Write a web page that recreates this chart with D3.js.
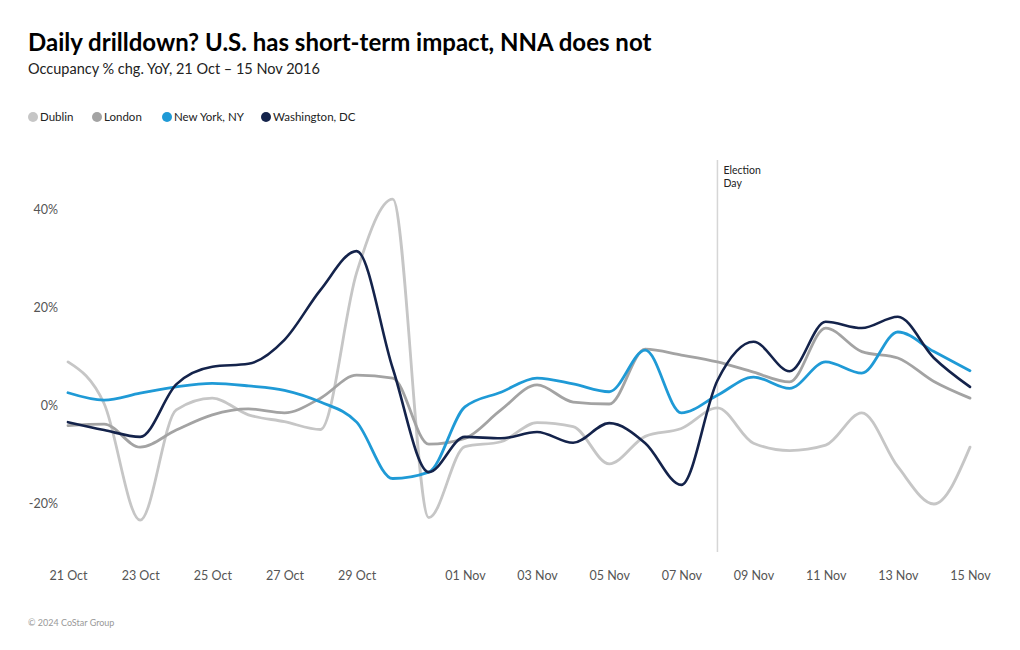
<!DOCTYPE html>
<html><head><meta charset="utf-8">
<script src="https://cdn.jsdelivr.net/npm/d3@7"></script>
<style>
body{margin:0;background:#fff;}
svg text{font-family:Lato,"Noto Sans",sans-serif;}
</style></head>
<body><svg id="c" width="1020" height="650"></svg>
<script>
const startDate = "2016-10-21";
const dublin = [8.8,0.3,-23.5,-1,1.4,-2,-3.4,-5,27,42,-23,-8.5,-7.5,-3.6,-4.4,-12,-6.4,-4.8,-0.6,-7.8,-9.3,-8.2,-1.6,-12.6,-20.2,-8.6];
const london = [-4.2,-3.9,-8.6,-5.1,-2,-0.8,-1.6,1.4,6.1,5.5,-8,-6.8,-1,4.1,0.6,0.2,11.4,10.2,8.8,6.7,4.7,15.7,10.9,9.6,4.8,1.4];
const newYork = [2.5,1,2.4,3.7,4.4,3.9,3,0.6,-3.5,-15,-13.7,-0.4,2.6,5.5,4.3,2.7,11.2,-1.6,2,5.7,3.4,8.8,6.5,14.9,10.9,7];
const washington = [-3.5,-5.1,-6.5,4.2,7.8,8.4,13.3,23.5,31.4,7.5,-13.7,-6.5,-6.8,-5.5,-7.7,-3.7,-7.8,-16.3,5,12.9,6.9,17,15.7,18,9.6,3.7];
const seriesNames = ["Dublin","London","New York, NY","Washington, DC"];
const seriesColors = ["#c6c6c6","#a3a3a3","#1f9ad6","#14234b"];
const xTickDates = ["2016-10-21","2016-10-23","2016-10-25","2016-10-27","2016-10-29","2016-11-01","2016-11-03","2016-11-05","2016-11-07","2016-11-09","2016-11-11","2016-11-13","2016-11-15"];
const yTicks = [-20,0,20,40];
const electionDate = "2016-11-08";

const parse = d3.utcParse("%Y-%m-%d");
const t0 = parse(startDate);
const dates = dublin.map((_, i) => d3.utcDay.offset(t0, i));
const allSeries = [dublin, london, newYork, washington];

const svg = d3.select("#c");
const x = d3.scaleUtc().domain([dates[0], dates[dates.length-1]]).range([68, 970]);
const y = d3.scaleLinear().domain([-30, 50]).range([552, 160]);

// Title
svg.append("text").attr("x", 28).attr("y", 51).attr("font-size", 24).attr("font-weight", 700).attr("fill", "#000")
  .text("Daily drilldown? U.S. has short-term impact, NNA does not");
svg.append("text").attr("x", 28).attr("y", 74).attr("font-size", 14.5).attr("fill", "#222")
  .text("Occupancy % chg. YoY, 21 Oct \u2013 15 Nov 2016");

// Legend
const legX = [33, 97, 167, 266];
const leg = svg.append("g");
seriesNames.forEach((n, i) => {
  leg.append("circle").attr("cx", legX[i]).attr("cy", 117).attr("r", 5).attr("fill", seriesColors[i]);
  leg.append("text").attr("x", legX[i] + 7).attr("y", 121).attr("font-size", 11.5).attr("fill", "#222").text(n);
});

// Axes
const yAxis = d3.axisLeft(y).tickValues(yTicks).tickSize(0).tickPadding(0).tickFormat(d => d + "%");
const gy = svg.append("g").attr("transform", "translate(58,0)").call(yAxis);
gy.select(".domain").remove();
gy.selectAll("text").attr("font-size", 12.5).attr("fill", "#555").attr("font-family", "Lato, sans-serif");

const fmt = d3.utcFormat("%d %b");
const xAxis = d3.axisBottom(x).tickValues(xTickDates.map(parse)).tickSize(0).tickPadding(0).tickFormat(fmt);
const gx = svg.append("g").attr("transform", "translate(0,571)").call(xAxis);
gx.select(".domain").remove();
gx.selectAll("text").attr("font-size", 12.5).attr("fill", "#555").attr("font-family", "Lato, sans-serif");

// Election day
const ex = x(parse(electionDate));
svg.append("line").attr("x1", ex).attr("x2", ex).attr("y1", 160).attr("y2", 552).attr("stroke", "#d6d6d6").attr("stroke-width", 1.5);
svg.append("text").attr("x", ex + 6).attr("y", 174).attr("font-size", 10.5).attr("fill", "#222").text("Election");
svg.append("text").attr("x", ex + 6).attr("y", 187).attr("font-size", 10.5).attr("fill", "#222").text("Day");

// Lines
const line = d3.line().x((d, i) => x(dates[i])).y(d => y(d)).curve(d3.curveMonotoneX);
allSeries.forEach((s, i) => {
  svg.append("path").datum(s).attr("d", line).attr("fill", "none")
    .attr("stroke", seriesColors[i]).attr("stroke-width", i === 3 ? 2.6 : 2.8)
    .attr("stroke-linejoin", "round").attr("stroke-linecap", "round");
});

// Footer
svg.append("text").attr("x", 28).attr("y", 626).attr("font-size", 9).attr("fill", "#999").text("\u00a9 2024 CoStar Group");
</script>
</body></html>
